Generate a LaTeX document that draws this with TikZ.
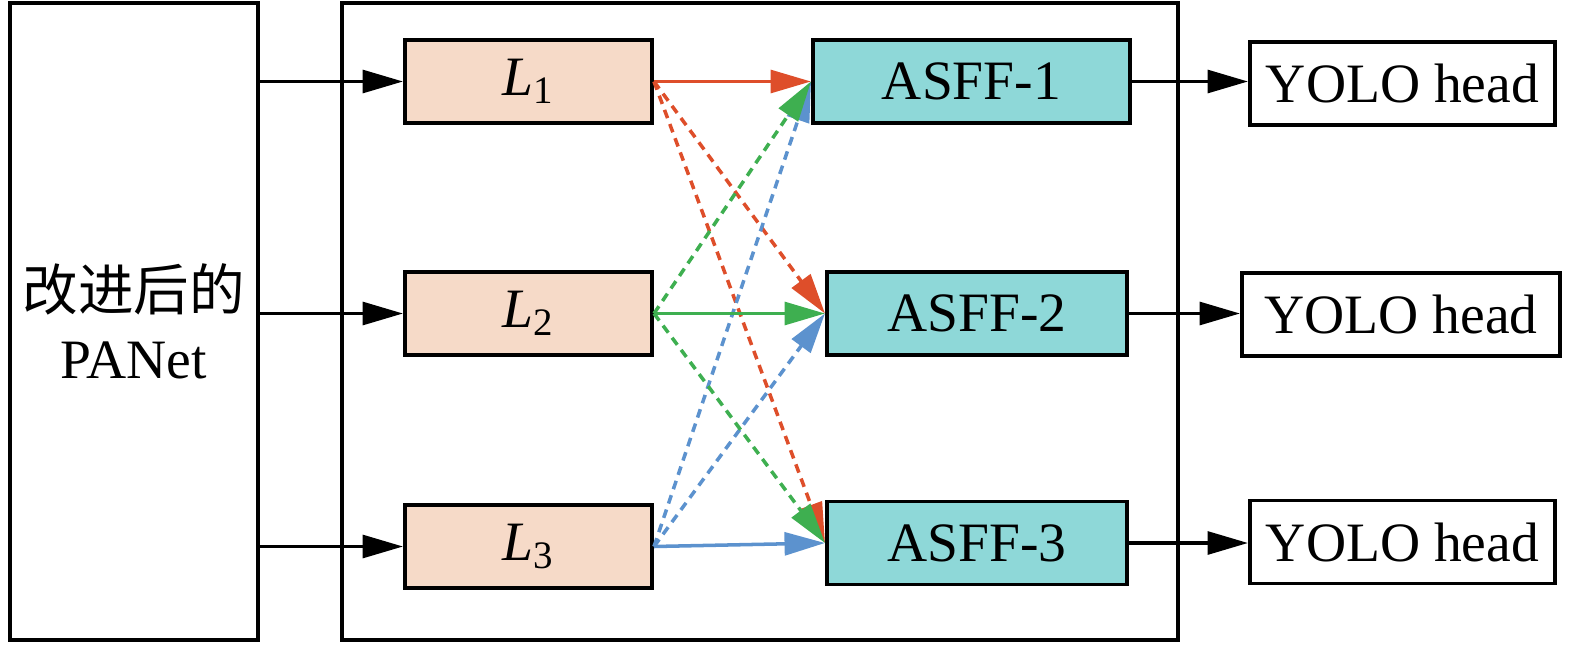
\documentclass[tikz,border=0pt]{standalone}
\usepackage{fontspec}
\usepackage{xcolor}
\setmainfont{Liberation Serif}
\newfontfamily\cjk{Noto Sans CJK SC}
\usetikzlibrary{arrows.meta}

\definecolor{lfill}{RGB}{246,218,200}
\definecolor{afill}{RGB}{142,216,216}
\definecolor{lred}{RGB}{222,78,42}
\definecolor{lgreen}{RGB}{62,175,80}
\definecolor{lblue}{RGB}{92,146,206}

\begin{document}
\begin{tikzpicture}[x=0.01cm, y=-0.01cm, font=\fontsize{15.8}{19.5}\selectfont,
      box/.style={draw, line width=1.1pt, minimum height=0.83cm, inner sep=0pt,
      align=center},
      lbox/.style={box, fill=lfill, minimum width=2.47cm},
      abox/.style={box, fill=afill, minimum width=3cm},
      hbox/.style={box, fill=white, minimum width=3.05cm},
      link/.style={line width=1pt, -{Triangle[length=11.5pt, width=6.5pt]}},
      cross/.style={link, dash pattern=on 2.5pt off 1.8pt} ]
          \useasboundingbox (0,0) rectangle (1575,645);
          % outer blocks
          \node[box, minimum width=2.48cm, minimum height=6.37cm] (panet) at (134,321.5)
            {{\cjk 改进后的}\\PANet};
          \node[box, minimum width=8.36cm, minimum height=6.37cm] (frame) at (760,321.5) {};
          % levels
          \node[lbox] (l1) at (528.5,81.5) {\textit{L}\textsubscript{1}};
          \node[lbox] (l2) at (528.5,313.5) {\textit{L}\textsubscript{2}};
          \node[lbox] (l3) at (528.5,546.5) {\textit{L}\textsubscript{3}};
          % fusion
          \node[abox, minimum width=3.17cm] (a1) at (971.5,81.5) {ASFF-1};
          \node[abox] (a2) at (977,313.5) {ASFF-2};
          \node[abox] (a3) at (977,543) {ASFF-3};
          % heads
          \node[hbox] (h1) at (1402.5,83.5) {YOLO head};
          \node[hbox, minimum width=3.18cm] (h2) at (1401,314.5) {YOLO head};
          \node[hbox] (h3) at (1402.5,542) {YOLO head};
          % inputs
          \draw[link] (panet.east |- l1.west) -- (l1.west);
          \draw[link] (panet.east |- l2.west) -- (l2.west);
          \draw[link] (panet.east |- l3.west) -- (l3.west);
          % fusion links
          \draw[link, lred] (l1.east) -- (a1.west);
          \draw[cross, lred] (l1.east) -- (a2.west);
          \draw[cross, lred] (l1.east) -- (a3.west);
          \draw[cross, lblue] (l3.east) -- (a1.west);
          \draw[cross, lblue] (l3.east) -- (a2.west);
          \draw[link, lblue] (l3.east) -- (a3.west);
          \draw[cross, lgreen] (l2.east) -- (a1.west);
          \draw[link, lgreen] (l2.east) -- (a2.west);
          \draw[cross, lgreen] (l2.east) -- (a3.west);
          % outputs
          \draw[link] (a1.east) -- (a1.east -| h1.west);
          \draw[link] (a2.east) -- (a2.east -| h2.west);
          \draw[link] (a3.east) -- (a3.east -| h3.west);
        \end{tikzpicture}
\end{document}
